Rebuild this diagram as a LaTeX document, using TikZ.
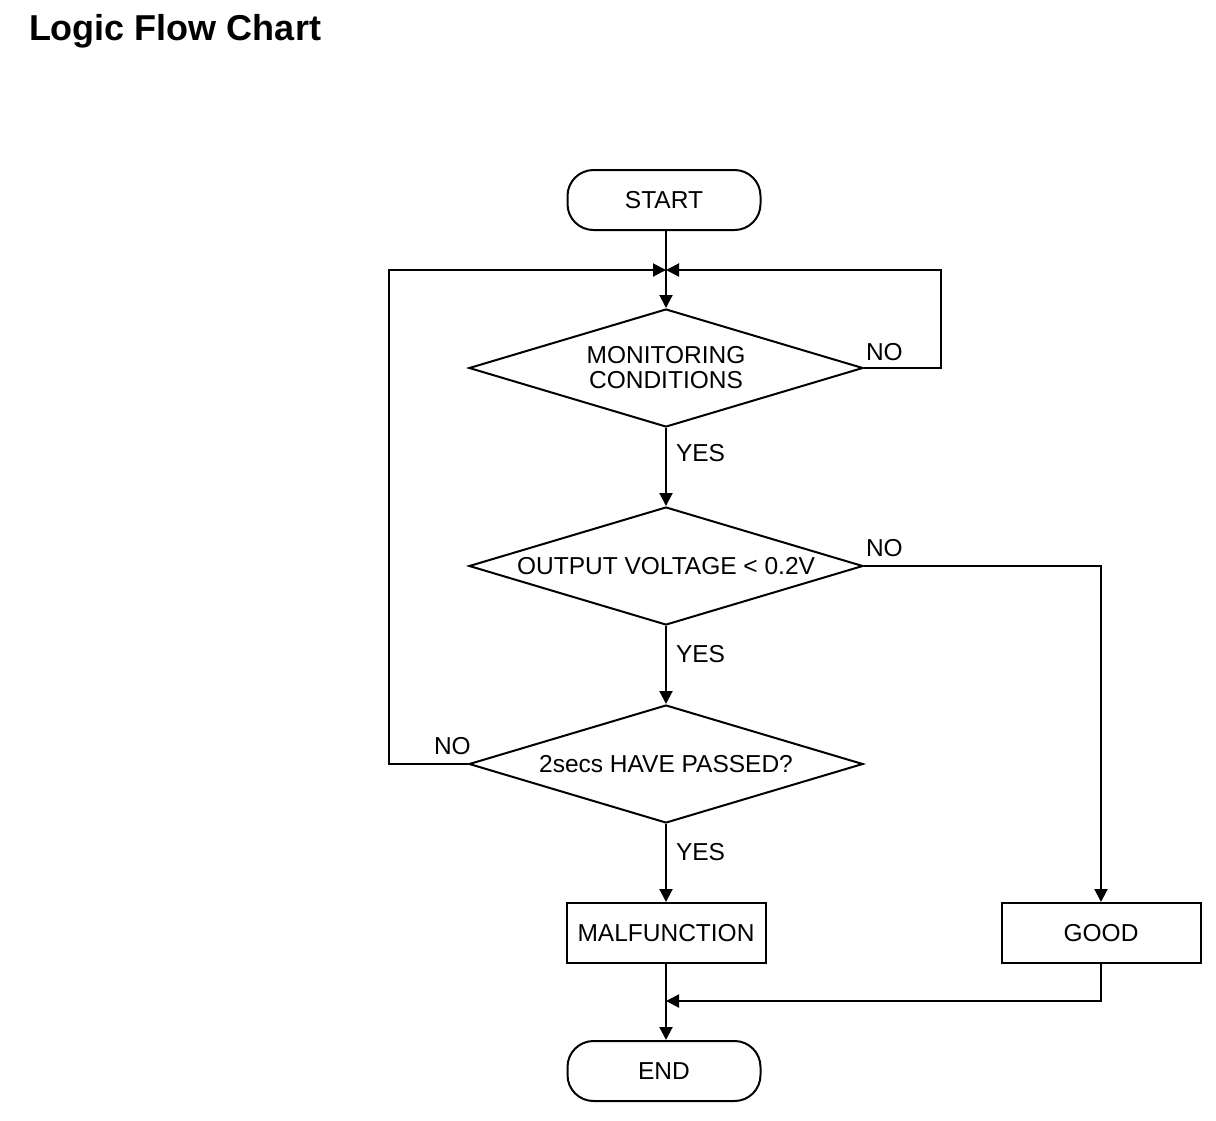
\documentclass[tikz,border=0pt]{standalone}
\usepackage{fontspec}
\setmainfont{Liberation Sans}
\usetikzlibrary{shapes.geometric,arrows.meta}

\begin{document}
\begin{tikzpicture}[x=1pt,y=-1pt,line width=2pt,
    every node/.style={font=\fontsize{24.5}{25}\selectfont, align=center},
    term/.style={draw, rectangle, rounded corners=26pt, minimum width=193pt, minimum height=60pt, inner sep=0pt},
    decide/.style={draw, diamond, aspect=3.34, minimum width=394pt, minimum height=118pt, inner sep=0pt},
    stepbox/.style={draw, rectangle, minimum width=199pt, minimum height=60pt, inner sep=0pt},
    lbl/.style={anchor=west, inner sep=0pt},
    arr/.style={-{Triangle[length=13pt,width=13pt]}}]

      \useasboundingbox (0,0) rectangle (1216,1120);

      \node[anchor=west, inner sep=0pt, font=\fontsize{36}{36}\selectfont\bfseries] (title) at (28,31) {Logic Flow Chart};

      % flow chart nodes
      \node[term]     (start) at (664,200)  {START};
      \node[decide]   (d1)    at (666,368)  {MONITORING\\CONDITIONS};
      \node[decide]   (d2)    at (666,566)  {OUTPUT VOLTAGE < 0.2V};
      \node[decide]   (d3)    at (666,764)  {2secs HAVE PASSED?};
      \node[stepbox]  (malf)  at (666,933)  {MALFUNCTION};
      \node[stepbox]  (good)  at (1101,933) {GOOD};
      \node[term]     (end)   at (664,1071) {END};

      \coordinate (merge) at (666,270);
      \coordinate (join)  at (666,1001);

      % connectors
      \draw[arr] (start.south -| merge) -- (d1.north);
      \draw[arr] (d1.south) -- (d2.north);
      \draw[arr] (d2.south) -- (d3.north);
      \draw[arr] (d3.south) -- (malf.north);
      \draw[arr] (malf.south) -- (malf.south |- end.north);
      \draw[arr] (d1.east) -- ++(77,0) |- (merge);
      \draw[arr] (d3.west) -- ++(-79,0) |- (merge);
      \draw[arr] (d2.east) -| (good.north);
      \draw[arr] (good.south) |- (join);

      % labels
      \node[lbl] (yes1) at (675,453) {YES};
      \node[lbl] (yes2) at (675,654) {YES};
      \node[lbl] (yes3) at (675,852) {YES};
      \node[lbl] (no1)  at (865,352) {NO};
      \node[lbl] (no2)  at (865,548) {NO};
      \node[lbl] (no3)  at (433,746) {NO};

    \end{tikzpicture}
\end{document}
